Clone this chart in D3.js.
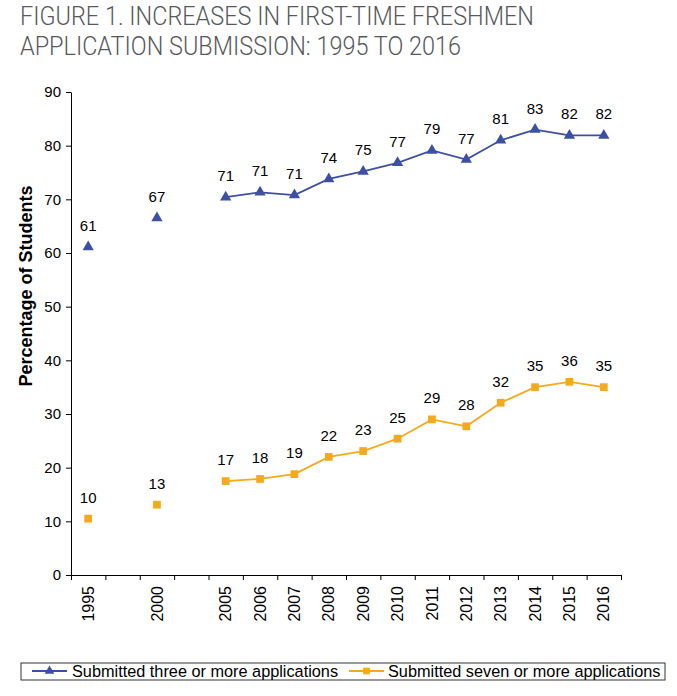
<!DOCTYPE html>
<html>
<head>
<meta charset="utf-8">
<script src="https://cdn.jsdelivr.net/npm/d3@7"></script>
<style>
  html, body { margin: 0; padding: 0; background: #fff; }
  svg { display: block; }
</style>
</head>
<body>
<svg id="chart" width="677" height="696"></svg>
<script>
// ---- data ----
const slots = ["1995", "", "2000", "", "2005", "2006", "2007", "2008", "2009", "2010", "2011", "2012", "2013", "2014", "2015", "2016"];
const years = ["1995", "2000", "2005", "2006", "2007", "2008", "2009", "2010", "2011", "2012", "2013", "2014", "2015", "2016"];
const threeOrMore = [61.1, 66.5, 70.4, 71.3, 70.8, 73.8, 75.2, 76.8, 79.1, 77.4, 81.0, 83.0, 81.9, 81.9];
const threeLabels = ["61", "67", "71", "71", "71", "74", "75", "77", "79", "77", "81", "83", "82", "82"];
const sevenOrMore = [10.5, 13.1, 17.5, 17.9, 18.8, 22.0, 23.1, 25.4, 29.0, 27.7, 32.1, 35.0, 36.0, 35.0];
const sevenLabels = ["10", "13", "17", "18", "19", "22", "23", "25", "29", "28", "32", "35", "36", "35"];
const yTicks = [0, 10, 20, 30, 40, 50, 60, 70, 80, 90];
const seriesNames = ["Submitted three or more applications", "Submitted seven or more applications"];
const titleLines = ["FIGURE 1. INCREASES IN FIRST-TIME FRESHMEN", "APPLICATION SUBMISSION: 1995 TO 2016"];

// ---- layout ----
const svg = d3.select("#chart");
const mLeft = 71, mRight = 621, mTop = 92, mBottom = 575;
const font = "'Liberation Sans', Arial, sans-serif";
const blue = "#3d50a3", orange = "#f5aa1c";

const x = d3.scaleBand().domain(d3.range(slots.length)).range([mLeft, mRight]).padding(0);
const xb = d3.scaleLinear().domain([0, slots.length]).range([mLeft, mRight]);
const y = d3.scaleLinear().domain([0, 90]).range([mBottom, mTop]);

// title
svg.append("g").selectAll("text").data(titleLines).join("text")
  .attr("x", 20).attr("y", (d, i) => 25 + i * 30)
  .attr("font-family", "Roboto, 'Liberation Sans', sans-serif")
  .attr("font-weight", 300)
  .attr("font-size", 25)
  .attr("fill", "#58595b")
  .attr("textLength", (d, i) => i === 0 ? 514 : 441)
  .attr("lengthAdjust", "spacingAndGlyphs")
  .text(d => d);

// y axis
const yAxis = svg.append("g").attr("transform", `translate(${mLeft},0)`)
  .call(d3.axisLeft(y).tickValues(yTicks).tickSize(5).tickPadding(5).tickSizeOuter(0));
yAxis.selectAll("text").attr("font-family", font).attr("font-size", 15).attr("fill", "#000");
yAxis.selectAll("line, path").attr("stroke", "#000");

// x axis tick marks at slot boundaries
const xAxis = svg.append("g").attr("transform", `translate(0,${mBottom})`)
  .call(d3.axisBottom(xb).tickValues(d3.range(slots.length + 1)).tickSize(5).tickFormat("").tickSizeOuter(0));
xAxis.selectAll("line, path").attr("stroke", "#000");

// x labels
const xLab = svg.append("g").attr("transform", `translate(0,${mBottom})`)
  .call(d3.axisBottom(x).tickSize(0).tickFormat(i => slots[i]));
xLab.select(".domain").remove();
xLab.selectAll("text")
  .attr("font-family", font).attr("font-size", 16).attr("fill", "#000")
  .attr("transform", "rotate(-90)")
  .attr("text-anchor", "end")
  .attr("x", -11).attr("y", 0).attr("dy", "0.35em");

// y title
svg.append("text")
  .attr("transform", "translate(32,286) rotate(-90)")
  .attr("text-anchor", "middle")
  .attr("font-family", font).attr("font-weight", "bold").attr("font-size", 18)
  .text("Percentage of Students");

// series
const cx = yr => x(slots.indexOf(yr)) + x.bandwidth() / 2;
function drawSeries(vals, labels, color, symbol, size) {
  const slotVals = slots.map(s => { const k = years.indexOf(s); return k >= 0 && s !== "" ? vals[k] : null; });
  const line = d3.line().defined(d => d !== null)
    .x((d, i) => x(i) + x.bandwidth() / 2).y(d => y(d));
  svg.append("path").datum(slotVals).attr("d", line)
    .attr("fill", "none").attr("stroke", color).attr("stroke-width", 1.8);
  const g = svg.append("g");
  g.selectAll("path").data(years).join("path")
    .attr("d", d3.symbol().type(symbol).size(size))
    .attr("transform", (d, i) => `translate(${cx(d)},${y(vals[i])})`)
    .attr("fill", color);
  g.selectAll("text").data(years).join("text")
    .attr("x", d => cx(d)).attr("y", (d, i) => y(vals[i]) - 16)
    .attr("text-anchor", "middle")
    .attr("font-family", font).attr("font-size", 15).attr("fill", "#000")
    .text((d, i) => labels[i]);
}
drawSeries(threeOrMore, threeLabels, blue, d3.symbolTriangle, 55);
drawSeries(sevenOrMore, sevenLabels, orange, d3.symbolSquare, 60);

// legend
const lg = svg.append("g");
lg.append("rect").attr("x", 21).attr("y", 663).attr("width", 644).attr("height", 17)
  .attr("fill", "none").attr("stroke", "#333").attr("stroke-width", 1);
const items = [
  { name: seriesNames[0], color: blue, symbol: d3.symbolTriangle, size: 40, x0: 32, tx: 72 },
  { name: seriesNames[1], color: orange, symbol: d3.symbolSquare, size: 45, x0: 349, tx: 388 }
];
items.forEach(it => {
  lg.append("line").attr("x1", it.x0).attr("x2", it.x0 + 35).attr("y1", 671).attr("y2", 671)
    .attr("stroke", it.color).attr("stroke-width", 1.8);
  lg.append("path").attr("d", d3.symbol().type(it.symbol).size(it.size))
    .attr("transform", `translate(${it.x0 + 17.5},671)`).attr("fill", it.color);
  lg.append("text").attr("x", it.tx).attr("y", 677)
    .attr("font-family", font).attr("font-size", 16.3).attr("fill", "#000")
    .text(it.name);
});
</script>
</body>
</html>
